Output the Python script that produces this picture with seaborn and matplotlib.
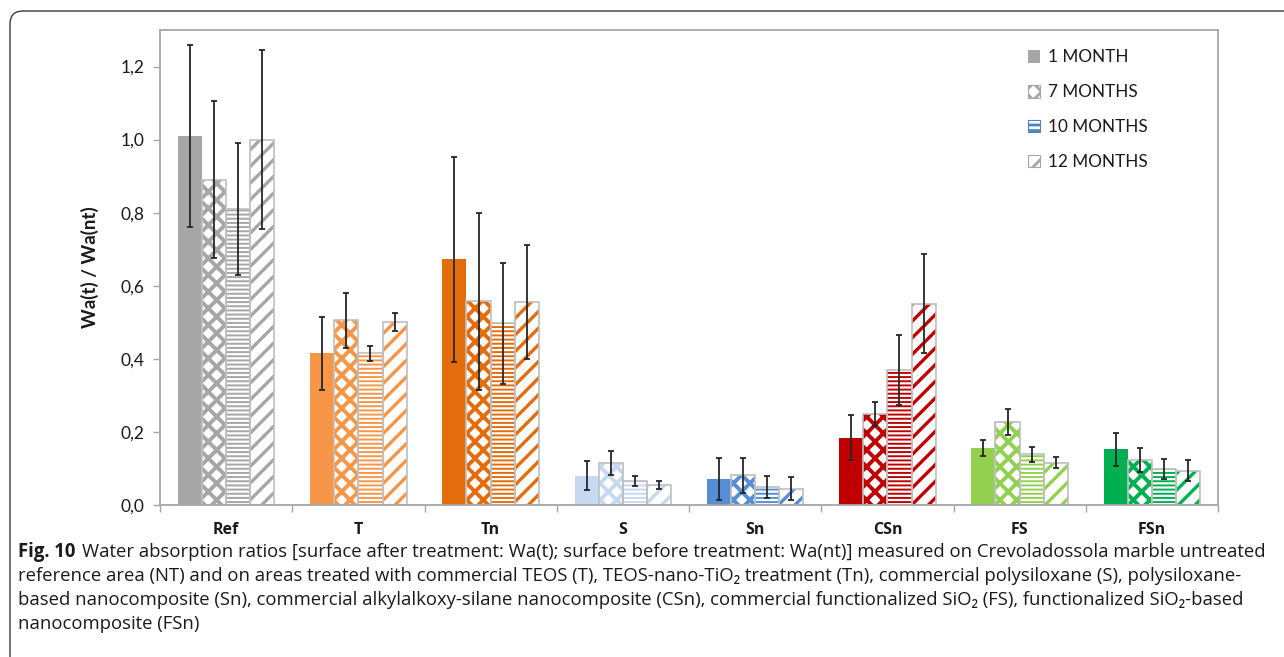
import numpy as np
import pandas as pd
import matplotlib
matplotlib.use("Agg")
import matplotlib.pyplot as plt
import seaborn as sns
from matplotlib.patches import Patch, FancyBboxPatch
from matplotlib.ticker import FuncFormatter

# ---- data ----
treatments = ["Ref", "T", "Tn", "S", "Sn", "CSn", "FS", "FSn"]
periods = ["1 MONTH", "7 MONTHS", "10 MONTHS", "12 MONTHS"]

m1 = [1.01, 0.415, 0.672, 0.080, 0.071, 0.184, 0.155, 0.152]
m7 = [0.89, 0.505, 0.557, 0.114, 0.081, 0.249, 0.228, 0.123]
m10 = [0.81, 0.415, 0.497, 0.066, 0.049, 0.369, 0.139, 0.099]
m12 = [1.00, 0.500, 0.555, 0.055, 0.045, 0.551, 0.116, 0.094]

e1 = [0.250, 0.100, 0.280, 0.040, 0.057, 0.062, 0.022, 0.045]
e7 = [0.215, 0.074, 0.243, 0.033, 0.048, 0.032, 0.036, 0.034]
e10 = [0.180, 0.020, 0.166, 0.013, 0.030, 0.095, 0.021, 0.027]
e12 = [0.245, 0.025, 0.156, 0.012, 0.031, 0.135, 0.015, 0.028]

colors = ["#a6a6a6", "#f79646", "#e46c0a", "#c6d9f1",
          "#558ed5", "#c00000", "#92d050", "#00b050"]
hatches = [None, "xx", "----", "//"]
hatch_lw = [None, 2.8, 1.4, 2.4]

caption_bold = "Fig. 10"
caption_lines = [
    "Water absorption ratios [surface after treatment: Wa(t); surface before treatment: Wa(nt)] measured on Crevoladossola marble untreated",
    "reference area (NT) and on areas treated with commercial TEOS (T), TEOS-nano-TiO\u2082 treatment (Tn), commercial polysiloxane (S), polysiloxane-",
    "based nanocomposite (Sn), commercial alkylalkoxy-silane nanocomposite (CSn), commercial functionalized SiO\u2082 (FS), functionalized SiO\u2082-based",
    "nanocomposite (FSn)",
]

values = [m1, m7, m10, m12]
errors = [e1, e7, e10, e12]
rows = []
for per, vals in zip(periods, values):
    for t, v in zip(treatments, vals):
        rows.append({"treatment": t, "period": per, "ratio": v})
df = pd.DataFrame(rows)

sns.set_theme(style="white")
plt.rcParams["font.family"] = ["Lato", "DejaVu Sans"]
plt.rcParams["hatch.linewidth"] = 2.0

W, H = 1284, 657
fig = plt.figure(figsize=(W / 100, H / 100), dpi=100)
ax = fig.add_axes([160 / W, 1 - 505 / H, (1218 - 160) / W, (505 - 30) / H])

sns.barplot(data=df, x="treatment", y="ratio", hue="period", order=treatments,
            hue_order=periods, width=0.73, errorbar=None, legend=False,
            saturation=1, ax=ax)

outline = "#bfbfbf"
bar_conts = list(ax.containers)
for j, cont in enumerate(bar_conts):
    xs, hs = [], []
    for i, p in enumerate(cont):
        c = colors[i]
        if hatches[j] is None:
            p.set_facecolor(c)
            p.set_edgecolor(c)
            p.set_linewidth(0)
        else:
            p.set_facecolor("white")
            p.set_edgecolor(c)
            p.set_hatch(hatches[j])
            p.set_linewidth(0)
            if hasattr(p, "set_hatch_linewidth"):
                p.set_hatch_linewidth(hatch_lw[j])
            ax.bar(p.get_x() + p.get_width() / 2, p.get_height(), width=p.get_width(),
                   fill=False, edgecolor=outline, linewidth=1.2, zorder=p.get_zorder() + 0.1)
        xs.append(p.get_x() + p.get_width() / 2)
        hs.append(p.get_height())
    ax.errorbar(xs, hs, yerr=errors[j], fmt="none", ecolor="#262626",
                elinewidth=1.3, capsize=2.5, capthick=1.3, zorder=5)

ax.set_ylim(0, 1.3)
ax.set_xlim(-0.5, len(treatments) - 0.5)
ax.set_yticks(np.arange(0, 1.21, 0.2))
ax.yaxis.set_major_formatter(FuncFormatter(lambda v, pos: f"{v:.1f}".replace(".", ",")))
ax.set_xlabel("")
ax.set_ylabel("Wa(t) / Wa(nt)", fontsize=13.5, fontweight="bold", color="#1a1a1a")
ax.yaxis.set_label_coords(-0.058, 0.5)

for s in ax.spines.values():
    s.set_color("#a6a6a6")
    s.set_linewidth(1.3)

ax.tick_params(axis="y", which="major", left=True, direction="out", length=5,
               width=1.0, color="#a6a6a6", labelsize=12.5, labelcolor="#1a1a1a", pad=6)
ax.set_xticks(np.arange(-0.5, len(treatments)), minor=True)
ax.tick_params(axis="x", which="minor", bottom=True, direction="out", length=5,
               width=1.0, color="#a6a6a6")
ax.tick_params(axis="x", which="major", bottom=False, length=0, pad=12)
for lab in ax.get_xticklabels():
    lab.set_fontfamily(["Open Sans", "DejaVu Sans"])
    lab.set_fontweight("bold")
    lab.set_fontsize(11.5)
    lab.set_color("#1a1a1a")

handles = [
    Patch(facecolor="#a6a6a6", edgecolor="#a6a6a6", linewidth=0),
    Patch(facecolor="white", edgecolor="#a6a6a6", hatch="xx", linewidth=0.8),
    Patch(facecolor="white", edgecolor="#4f81bd", hatch="---", linewidth=0.8),
    Patch(facecolor="white", edgecolor="#a6a6a6", hatch="//", linewidth=0.8),
]
for h in handles[1:]:
    if hasattr(h, "set_hatch_linewidth"):
        h.set_hatch_linewidth(1.2)
ax.legend(handles, periods, loc="upper left", bbox_to_anchor=(0.812, 0.977),
          frameon=False, fontsize=12.3, handlelength=0.75, handleheight=0.75,
          handletextpad=0.45, labelspacing=1.1, borderpad=0, labelcolor="#1a1a1a")

# outer rounded frame
frame = FancyBboxPatch((0.10, -0.5), 14.0, 6.46 + 0.5, boxstyle="round,pad=0,rounding_size=0.13",
                       transform=fig.dpi_scale_trans, facecolor="none",
                       edgecolor="#3a3a3a", linewidth=1.0)
fig.add_artist(frame)

# caption
cap_font = ["Open Sans", "DejaVu Sans"]
fig.canvas.draw()
renderer = fig.canvas.get_renderer()
fs = 12.0
baselines = [557, 581, 605, 629]
x0 = 18
tb = fig.text(x0 / W, 1 - baselines[0] / H, caption_bold, fontsize=fs, fontweight="bold",
              family=cap_font, va="baseline", color="#1a1a1a")
bb = tb.get_window_extent(renderer)
t1 = fig.text((bb.x1 + 8) / W, 1 - baselines[0] / H, caption_lines[0], fontsize=fs,
              family=cap_font, va="baseline", color="#1a1a1a")
# fit font size so the first line reaches the right margin
e = t1.get_window_extent(renderer)
scale = (1265 - x0) / (e.x1 - bb.x0)
fs = fs * scale
tb.set_fontsize(fs)
bb = tb.get_window_extent(renderer)
t1.set_position(((bb.x1 + 7) / W, 1 - baselines[0] / H))
t1.set_fontsize(fs)
for line, yb in zip(caption_lines[1:], baselines[1:]):
    fig.text(x0 / W, 1 - yb / H, line, fontsize=fs, family=cap_font,
             va="baseline", color="#1a1a1a")

fig.savefig("out.png", dpi=100)
